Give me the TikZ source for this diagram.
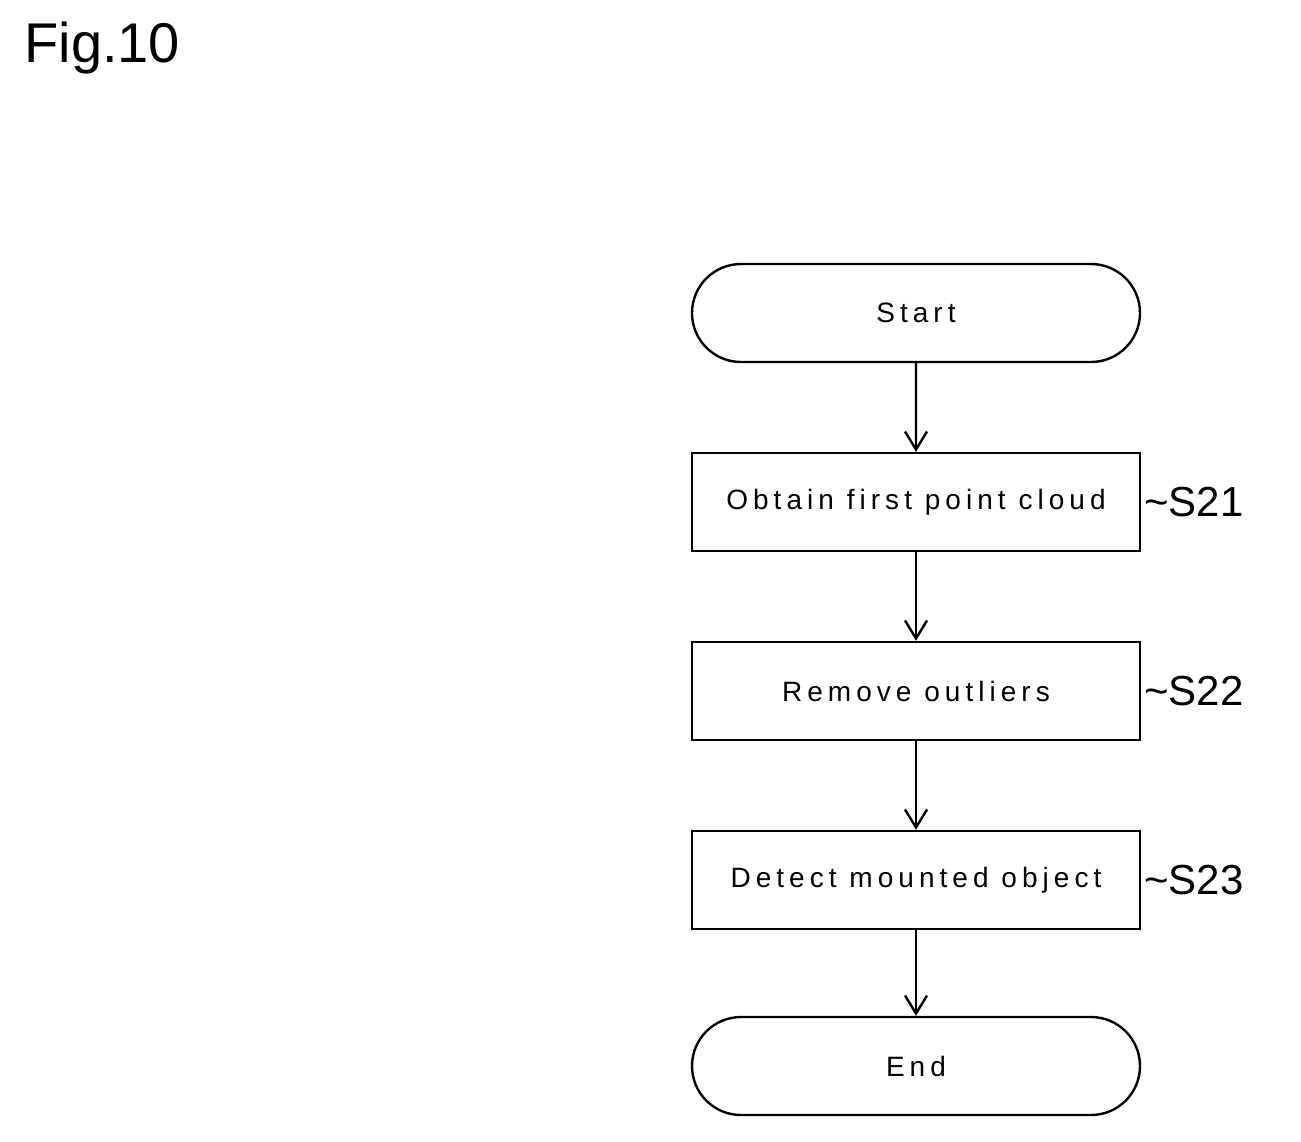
\documentclass[tikz,border=0pt]{standalone}
\usepackage{fontspec}
\setmainfont{Liberation Sans}
\newfontfamily\stepfont[LetterSpace=18]{Liberation Sans}
\usetikzlibrary{arrows.meta,shapes.misc}
\tikzset{
  stepbox/.style={draw,line width=1.2pt,minimum width=224pt,minimum height=49pt,inner sep=0pt,font=\stepfont\fontsize{14}{16}\selectfont},
  termbox/.style={stepbox,rounded rectangle},
  flow/.style={-{Straight Barb[length=9pt,width=11pt]},line width=1.2pt},
  tag/.style={anchor=west,inner sep=0pt,font=\fontsize{21}{24}\selectfont}
}
\begin{document}
\begin{tikzpicture}[x=0.5pt,y=0.5pt,yscale=-1]
\useasboundingbox (0,0) rectangle (1301,1141);

% figure title
\node[anchor=north west,inner sep=0pt,font=\fontsize{28}{32}\selectfont] (title) at (24,22) {Fig.10};

% flow steps
\node[termbox] (start) at (916,313) {Start};
\node[stepbox] (s21) at (916,502) {Obtain first point cloud};
\node[stepbox] (s22) at (916,691) {Remove outliers};
\node[stepbox] (s23) at (916,880) {Detect mounted object};
\node[termbox] (end) at (916,1066) {End};

% step tags
\node[tag] (t21) at (1144,502) {\textasciitilde S21};
\node[tag] (t22) at (1144,691) {\textasciitilde S22};
\node[tag] (t23) at (1144,880) {\textasciitilde S23};

\draw[flow] (start) -- (s21);
\draw[flow] (s21) -- (s22);
\draw[flow] (s22) -- (s23);
\draw[flow] (s23) -- (end);
\end{tikzpicture}
\end{document}
